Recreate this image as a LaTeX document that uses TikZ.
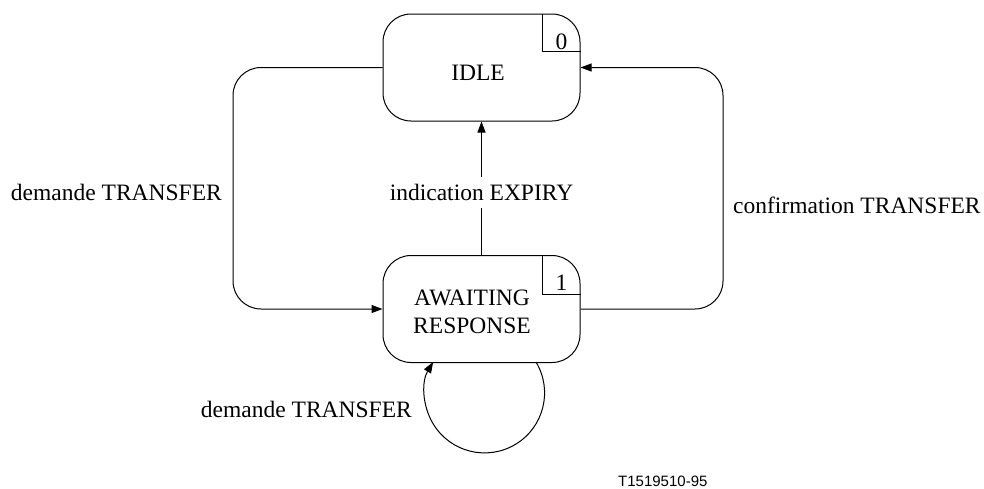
\documentclass[tikz,border=0pt]{standalone}
\usepackage{fontspec}
\setmainfont{Liberation Serif}
\newfontfamily\labsans{Liberation Sans}
\usetikzlibrary{arrows.meta,calc}
\begin{document}
\begin{tikzpicture}[x=1pt,y=-1pt,
  every node/.style={font=\fontsize{23.5}{28}\selectfont, inner sep=0pt},
  statebox/.style={draw, line width=1pt, rounded corners=28pt, minimum width=197pt, minimum height=107pt},
  conn/.style={line width=1pt, rounded corners=28pt},
  arr/.style={-{Triangle[length=11pt,width=8pt]}},
  numbox/.style={line width=1pt}]
\useasboundingbox (0,0) rectangle (984,488);

% states
\node[statebox] (idle) at (481.5,67.5) {};
\node[anchor=base] (idlet) at (478,80) {IDLE};
\node[statebox] (await) at (481.5,309) {};
\node[align=center] (awaitt) at (472,312) {AWAITING\\RESPONSE};

% number boxes
\draw[numbox] ($(idle.north east)+(-38,0)$) |- ($(idle.north east)+(0,38)$);
\node[anchor=base] (n0) at ($(idle.north east)+(-19,36)$) {0};
\draw[numbox] ($(await.north east)+(-38,0)$) |- ($(await.north east)+(0,39)$);
\node[anchor=base] (n1) at ($(await.north east)+(-19,35)$) {1};

% connectors
\coordinate (l1) at (233,67.5);
\coordinate (l2) at (233,309);
\draw[conn,arr] (idle.west) -- (l1) -- (l2) -- (await.west);
\coordinate (r1) at (723,309);
\coordinate (r2) at (723,67.5);
\draw[conn,arr] (await.east) -- (r1) -- (r2) -- (idle.east);
\draw[line width=1pt,arr] (await.north) -- node[pos=0.47, fill=white, inner xsep=2pt, inner ysep=7pt] (lexp) {indication EXPIRY} (idle.south);

% self loop
\coordinate (ls) at (536,362);
\draw[line width=1pt,arr] (ls) arc[start angle=-31, end angle=211, radius=60];

% labels
\node[anchor=base east] (ldem) at (222,200) {demande TRANSFER};
\node[anchor=base west] (lconf) at (733,213) {confirmation TRANSFER};
\node[anchor=base east] (lloop) at (412,417) {demande TRANSFER};
\node[anchor=base west, font=\labsans\fontsize{15}{18}\selectfont] (ref) at (618,486) {T1519510-95};
\end{tikzpicture}
\end{document}
